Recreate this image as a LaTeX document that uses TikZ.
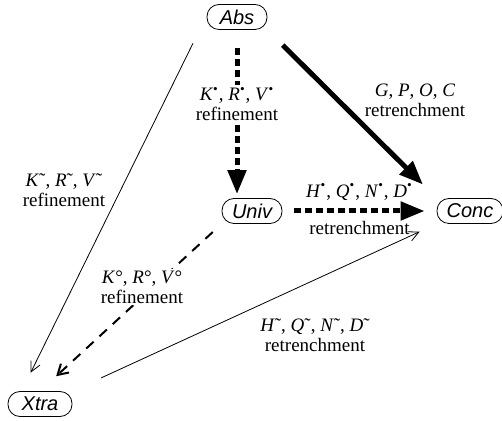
\documentclass[tikz,border=0pt]{standalone}
\usepackage{fontspec}
\setmainfont{Liberation Serif}
\setsansfont{Liberation Sans}
\usetikzlibrary{arrows.meta,positioning}

\newcommand{\bul}[1]{\textit{#1}\textsuperscript{•}}
\newcommand{\til}[1]{\textit{#1}˜}
\newcommand{\cir}[1]{\textit{#1}°}

\tikzset{
  spec/.style={draw, rounded corners=6pt, minimum width=30pt, minimum height=12.5pt,
    inner sep=1pt, font=\sffamily\itshape\fontsize{10}{12}\selectfont},
  lbl/.style={align=center, inner sep=1pt, font=\fontsize{9.5}{10}\selectfont},
  heavy/.style={line width=2.5pt, -{Triangle[length=12pt,width=9pt]}},
  heavydash/.style={heavy, dash pattern=on 3.5pt off 2pt},
  middash/.style={line width=1pt, dash pattern=on 5pt off 4pt,
    -{Straight Barb[length=5pt,width=6pt]}},
  light/.style={line width=0.4pt, -{Straight Barb[length=5pt,width=5pt]}},
}

\begin{document}
\begin{tikzpicture}[x=0.5pt,y=-0.5pt]
  \useasboundingbox (0,0) rectangle (502,421);
  % specifications
  \node[spec] (abs) at (237,17) {Abs};
  \node[spec] (univ) at (252,211) {Univ};
  \node[spec, minimum width=33pt] (conc) at (470,211) {Conc};
  \node[spec, minimum width=32pt] (xtra) at (40,404) {Xtra};
  % refinements
  \draw[heavydash, shorten <=9pt, shorten >=2pt] (abs.south) -- (abs.south |- univ.north);
  \node[lbl, fill=white] (kbul) at (237,104) {\bul{K}, \bul{R}, \bul{V}\\refinement};
  \draw[light, shorten <=7.5pt, shorten >=10.3pt] ([xshift=-3.5pt]abs.south west) -- ([xshift=7pt]xtra.north west);
  \node[lbl] (ktil) at (64,190) {\til{K}, \til{R}, \til{V}\\refinement};
  \draw[middash, shorten <=6pt, shorten >=11pt] (univ.south west) -- (xtra.north);
  \node[lbl, fill=white] (kcir) at (142,287) {\cir{K}, \cir{R}, \cir{V}\\refinement};
  % retrenchments
  \draw[heavy, shorten <=10.8pt, shorten >=9.6pt] (abs.south east) -- (conc.north west);
  \node[lbl] (gpoc) at (415,100) {\textit{G}, \textit{P}, \textit{O}, \textit{C}\\retrenchment};
  \draw[heavydash, shorten <=6pt, shorten >=6pt] (univ.east) -- (conc.west)
    node[lbl, midway, above=3pt] (hbul) {\bul{H}, \bul{Q}, \bul{N}, \bul{D}}
    node[lbl, midway, below=3pt] (hret) {retrenchment};
  \draw[light, shorten <=15.8pt, shorten >=9.4pt] (xtra.north east) -- (conc.south west);
  \node[lbl] (htil) at (315,335) {\til{H}, \til{Q}, \til{N}, \til{D}\\retrenchment};
\end{tikzpicture}
\end{document}
